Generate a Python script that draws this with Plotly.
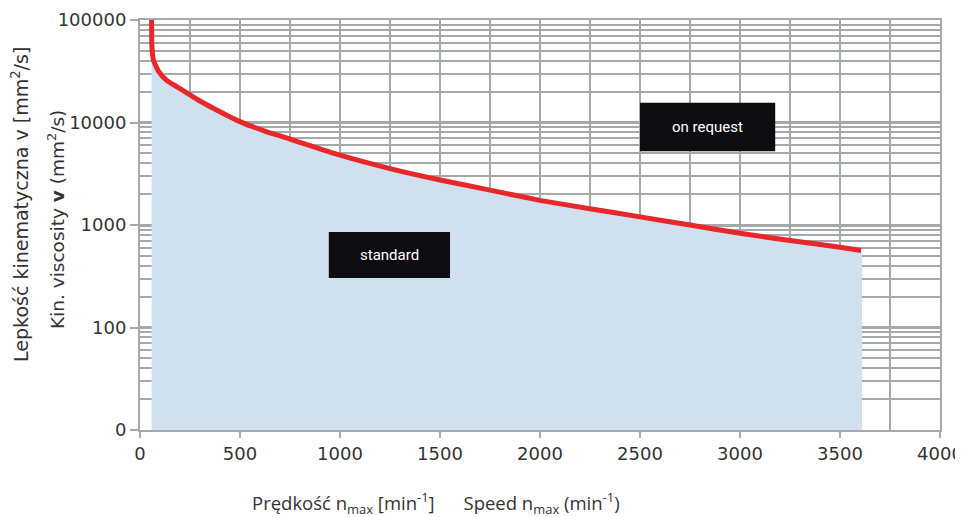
import plotly.graph_objects as go

# ---- data ----
speed = [58, 59, 62, 67, 92, 133, 183, 250, 300, 366, 500, 620, 750, 1000, 1250,
         1500, 1750, 2000, 2250, 2500, 2750, 3000, 3250, 3500, 3605]
viscosity = [100000, 59000, 48000, 40700, 31700, 25800, 22400, 18600, 16200,
             13800, 10200, 8300, 6900, 4800, 3550, 2750, 2190, 1740, 1440, 1200, 1000,
             830, 705, 607, 565]
fill_top = 40000          # upper limit of the shaded "standard" area at the left
fill_bottom = 10          # bottom of y axis (labelled "0")
fill_right = 3610

y_tickvals = [10, 100, 1000, 10000, 100000]
y_ticktext = ["0", "100", "1000", "10000", "100000"]
y_minor = [m * 10 ** k for k in range(1, 5) for m in range(2, 10)]
x_tickvals = [0, 500, 1000, 1500, 2000, 2500, 3000, 3500, 4000]

GRID = "#a6a9ac"
TXT = "#333333"

fill_x = speed + [fill_right, fill_right, speed[0]]
fill_y = [min(v, fill_top) for v in viscosity] + [viscosity[-1] * 0.98, fill_bottom, fill_bottom]

fig = go.Figure()
fig.add_trace(go.Scatter(x=fill_x, y=fill_y, fill="toself", fillcolor="#d1e0ef",
                         line=dict(width=0), mode="lines", hoverinfo="skip",
                         showlegend=False))
fig.add_trace(go.Scatter(x=speed, y=viscosity, mode="lines",
                         line=dict(color="#e8272b", width=5, shape="spline", smoothing=0.5),
                         showlegend=False))

fig.update_xaxes(range=[0, 4000], tickvals=x_tickvals, showgrid=True, automargin=False,
                 gridcolor=GRID, gridwidth=2, showline=True, linecolor=GRID,
                 linewidth=2, mirror=True, ticks="outside", ticklen=6,
                 tickcolor=GRID, tickwidth=2, zeroline=False,
                 tickfont=dict(family="DejaVu Sans", size=18, color=TXT),
                 minor=dict(dtick=250, showgrid=True, gridcolor=GRID, gridwidth=1.5))
fig.update_yaxes(type="log", range=[1, 5], tickvals=y_tickvals, ticktext=y_ticktext,
                 showgrid=True, gridcolor=GRID, gridwidth=2.5, showline=True,
                 automargin=False,
                 linecolor=GRID, linewidth=2, mirror=True, ticks="outside",
                 ticklen=8, tickcolor=GRID, tickwidth=2, zeroline=False,
                 tickfont=dict(family="DejaVu Sans", size=18, color=TXT),
                 minor=dict(tickmode="array", tickvals=y_minor, showgrid=True,
                            gridcolor=GRID, gridwidth=1.5, ticks=""))

boxes = [
    ("standard", 0.236, 0.3875, 0.371, 0.483),
    ("on request", 0.625, 0.794, 0.680, 0.798),
]
for label, x0, x1, y0, y1 in boxes:
    fig.add_shape(type="rect", xref="paper", yref="paper", x0=x0, x1=x1, y0=y0, y1=y1,
                  fillcolor="#0d0c10", line=dict(width=0), layer="above")
    fig.add_annotation(xref="paper", yref="paper", x=(x0 + x1) / 2, y=(y0 + y1) / 2,
                       xanchor="center", yanchor="middle",
                       text=label, showarrow=False,
                       font=dict(family="Roboto", size=15, color="white"))

fig.add_annotation(xref="paper", yref="paper", x=-0.15, y=0.549, xanchor="center",
                   yanchor="middle", textangle=-90, showarrow=False,
                   text="Lepkość kinematyczna v [mm<sup>2</sup>/s]",
                   font=dict(family="DejaVu Sans", size=19, color=TXT))
fig.add_annotation(xref="paper", yref="paper", x=-0.105, y=0.512, xanchor="center",
                   yanchor="middle", textangle=-90, showarrow=False,
                   text="Kin. viscosity <b>v</b> (mm<sup>2</sup>/s)",
                   font=dict(family="DejaVu Sans", size=18.5, color=TXT))
fig.add_annotation(xref="paper", yref="paper", x=0.37, y=-0.178, xanchor="center",
                   yanchor="middle", showarrow=False,
                   text="Prędkość n<sub>max</sub> [min<sup>-1</sup>]      Speed n<sub>max</sub> (min<sup>-1</sup>)",
                   font=dict(family="Open Sans", size=18.5, color=TXT))

# page has an 8px body margin, so the figure is sized/margined to compensate
fig.update_layout(width=955, height=509, margin=dict(l=132, r=23, t=12, b=87),
                  plot_bgcolor="white", paper_bgcolor="white", showlegend=False)

fig.write_html("out.html")
